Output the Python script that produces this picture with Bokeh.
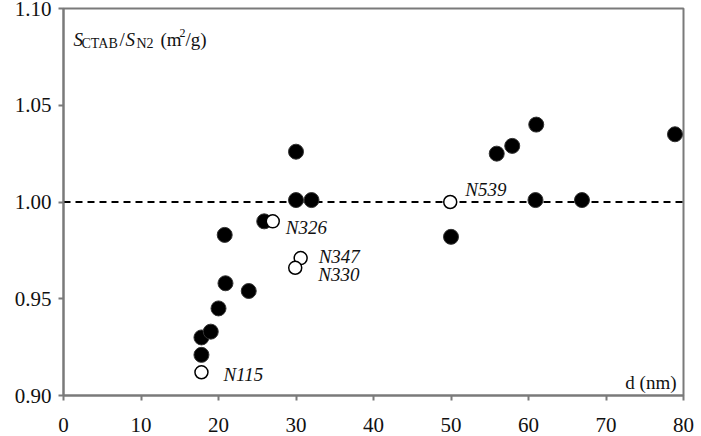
from bokeh.plotting import figure
from bokeh.models import FixedTicker, NumeralTickFormatter, Span
from bokeh.core.properties import value
from bokeh.embed import file_html
from bokeh.resources import INLINE

# Particle size d (nm) and surface-area ratio S_CTAB / S_N2
filled_d = [17.8, 17.8, 19.0, 20.0, 20.9, 23.9, 20.8, 25.9, 30.0, 30.0, 32.0,
            50.0, 55.9, 57.9, 61.0, 60.9, 66.9, 78.9]
filled_ratio = [0.921, 0.930, 0.933, 0.945, 0.958, 0.954, 0.983, 0.990, 1.026,
                1.001, 1.001, 0.982, 1.025, 1.029, 1.040, 1.001, 1.001, 1.035]

# Reference grades (open markers)
open_names = ["N115", "N326", "N347", "N330", "N539"]
open_d = [17.8, 27.0, 30.6, 29.9, 49.9]
open_ratio = [0.912, 0.990, 0.971, 0.966, 1.000]

x_ticks = [0, 10, 20, 30, 40, 50, 60, 70, 80]
y_ticks = [0.90, 0.95, 1.00, 1.05, 1.10]
reference_level = 1.00

# label placement (screen px) for each reference grade
label_dx = [22, 13, 18, 23, 15]
label_dy = [2, 6, -2, 7, -13]

SERIF = "Liberation Serif"
INK = "#111111"
FRAME = "#7a7a7a"

p = figure(width=701, height=436, x_range=(0, 80), y_range=(0.90, 1.10),
           output_backend="svg", toolbar_location=None,
           min_border_left=63, min_border_right=18,
           min_border_top=8, min_border_bottom=41)
p.grid.visible = False
p.outline_line_color = FRAME
p.outline_line_width = 2
p.background_fill_color = "white"
p.border_fill_color = "white"

for ax in (p.xaxis[0], p.yaxis[0]):
    ax.axis_line_color = FRAME
    ax.axis_line_width = 2
    ax.major_tick_line_color = FRAME
    ax.major_tick_line_width = 2
    ax.major_tick_out = 5
    ax.major_tick_in = 0
    ax.minor_tick_line_color = None
    ax.major_label_text_font = SERIF
    ax.major_label_text_font_size = "21px"
    ax.major_label_text_color = INK

p.xaxis.ticker = FixedTicker(ticks=x_ticks)
p.yaxis.ticker = FixedTicker(ticks=y_ticks)
p.yaxis.formatter = NumeralTickFormatter(format="0.00")
p.xaxis.major_label_standoff = 17
p.yaxis.major_label_standoff = 7

# dashed reference line at ratio = 1, kept beneath the markers
p.add_layout(Span(location=reference_level, dimension="width",
                  line_color="black", line_width=2, line_dash="7 5",
                  level="underlay"))

p.scatter(filled_d, filled_ratio, size=15, fill_color="black",
          line_color="#333333", line_width=1)
p.scatter(open_d, open_ratio, size=13, fill_color="white",
          line_color="black", line_width=1.5)

p.text(x=open_d, y=open_ratio, text=open_names, x_offset=label_dx,
       y_offset=label_dy, text_font=value(SERIF), text_font_style="italic",
       text_font_size="19px", text_align="left", text_baseline="middle",
       text_color=INK)

# y-axis title written inside the frame: S_CTAB/S_N2 (m^2/g)
title_parts = [
    ("S", 10, 31, "19px", "italic"),
    ("CTAB", 18, 35, "14px", "normal"),
    ("/", 56, 31, "19px", "normal"),
    ("S", 62, 31, "19px", "italic"),
    ("N2", 73, 35, "14px", "normal"),
    ("(m", 97, 31, "19px", "normal"),
    ("2", 116, 24, "12px", "normal"),
    ("/g)", 122, 31, "19px", "normal"),
]
for txt, dx, dy, fs, style in title_parts:
    p.text(x=[0], y=[1.10], text=[txt], x_offset=dx, y_offset=dy,
           text_font=value(SERIF), text_font_size=fs, text_font_style=style,
           text_align="left", text_baseline="alphabetic", text_color=INK)

# x-axis title in the lower-right corner of the frame
p.text(x=[80], y=[0.90], text=["d (nm)"], x_offset=-7, y_offset=-13,
       text_font=value(SERIF), text_font_size="19px", text_align="right",
       text_baseline="alphabetic", text_color=INK)

open("out.html", "w").write(file_html(p, INLINE))
